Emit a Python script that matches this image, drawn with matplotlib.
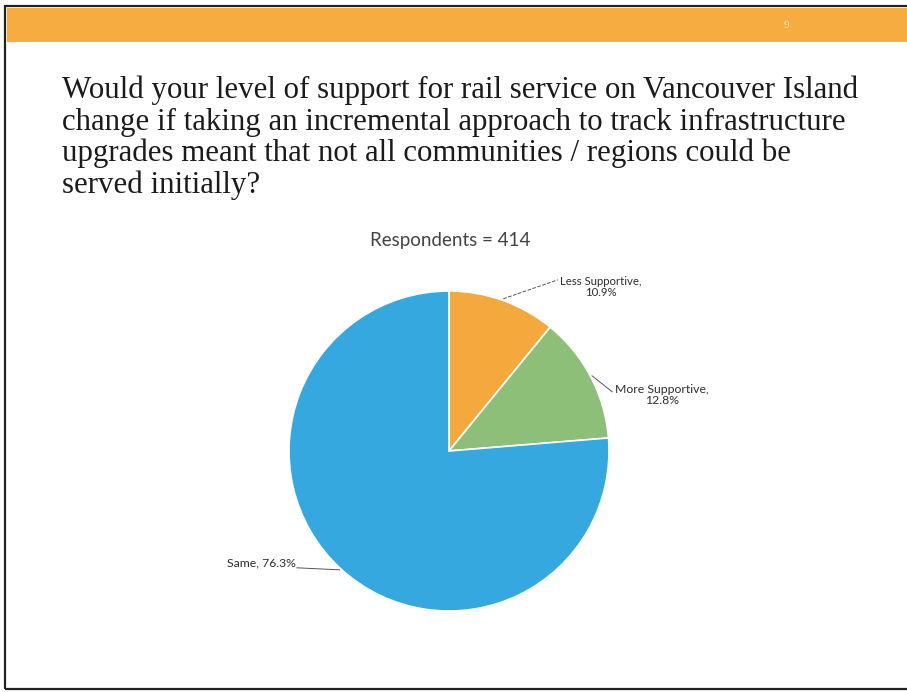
import matplotlib.pyplot as plt
import numpy as np
from matplotlib.patches import Rectangle

# survey answers, percent of respondents
labels = ['Less Supportive', 'More Supportive', 'Same']
shares = [10.9, 12.8, 76.3]
colors = ['#F5A83C', '#8DBF78', '#35A8E0']
respondents = 414

title_lines = [
    'Would your level of support for rail service on Vancouver Island',
    'change if taking an incremental approach to track infrastructure',
    'upgrades meant that not all communities / regions could be',
    'served initially?',
]

W, H = 907, 692
fig = plt.figure(figsize=(W / 100, H / 100), dpi=100)
fig.patch.set_facecolor('white')

def fx(px):
    return px / W

def fy(py):
    return 1 - py / H

# slide frame and orange header band
fig.add_artist(Rectangle((fx(5), fy(689)), fx(910) - fx(5), fy(6) - fy(689),
                         transform=fig.transFigure, fill=False,
                         edgecolor='#222222', linewidth=1.6))
fig.add_artist(Rectangle((fx(7), fy(42)), fx(902), fy(8) - fy(42),
                         transform=fig.transFigure, facecolor='#F6AC3E',
                         edgecolor='none'))
fig.text(fx(786), fy(25), '9', color='#FCE7C0', fontsize=8,
         ha='center', va='center', family='Liberation Serif')

# question text
for i, line in enumerate(title_lines):
    fig.text(fx(62), fy(98 + i * 31.7), line, fontsize=22.2,
             family='Liberation Serif', color='#1b1b1b', va='baseline')

fig.text(fx(450), fy(240), 'Respondents = %d' % respondents, fontsize=13.5,
         family='Lato', color='#444444', ha='center', va='center')

# pie
ax = fig.add_axes([fx(289), fy(611), fx(320), fy(291) - fy(611)])
wedges, _ = ax.pie(shares, colors=colors, startangle=90, counterclock=False,
                   wedgeprops=dict(edgecolor='white', linewidth=1.2))
ax.set_xlim(-1, 1)
ax.set_ylim(-1, 1)
ax.set_aspect('equal')
ax.axis('off')

# data labels with leader lines
label_pos = [(0.95, 1.025), (1.33, 0.35), (-0.96, -0.70)]
line_end = [(0.68, 1.07), (1.02, 0.37), (-0.95, -0.73)]
label_size = [8.2, 8.8, 8.8]
label_ha = ['center', 'center', 'right']
line_style = ['--', '-', '-']
for w, name, val, pos, end, fs, ha, ls in zip(wedges, labels, shares,
                                              label_pos, line_end, label_size,
                                              label_ha, line_style):
    ang = np.deg2rad((w.theta1 + w.theta2) / 2)
    anchor = (1.01 * np.cos(ang), 1.01 * np.sin(ang))
    if ha == 'center':
        txt = '%s,\n%.1f%%' % (name, val)
    else:
        txt = '%s, %.1f%%' % (name, val)
    ax.plot([anchor[0], end[0]], [anchor[1], end[1]], color='#555555',
            lw=0.7, ls=ls, clip_on=False)
    ax.text(pos[0], pos[1], txt, fontsize=fs, family='Lato', color='#2e2e2e',
            ha=ha, va='center', linespacing=1.05, clip_on=False)

fig.savefig('out.png', dpi=100, facecolor='white')
